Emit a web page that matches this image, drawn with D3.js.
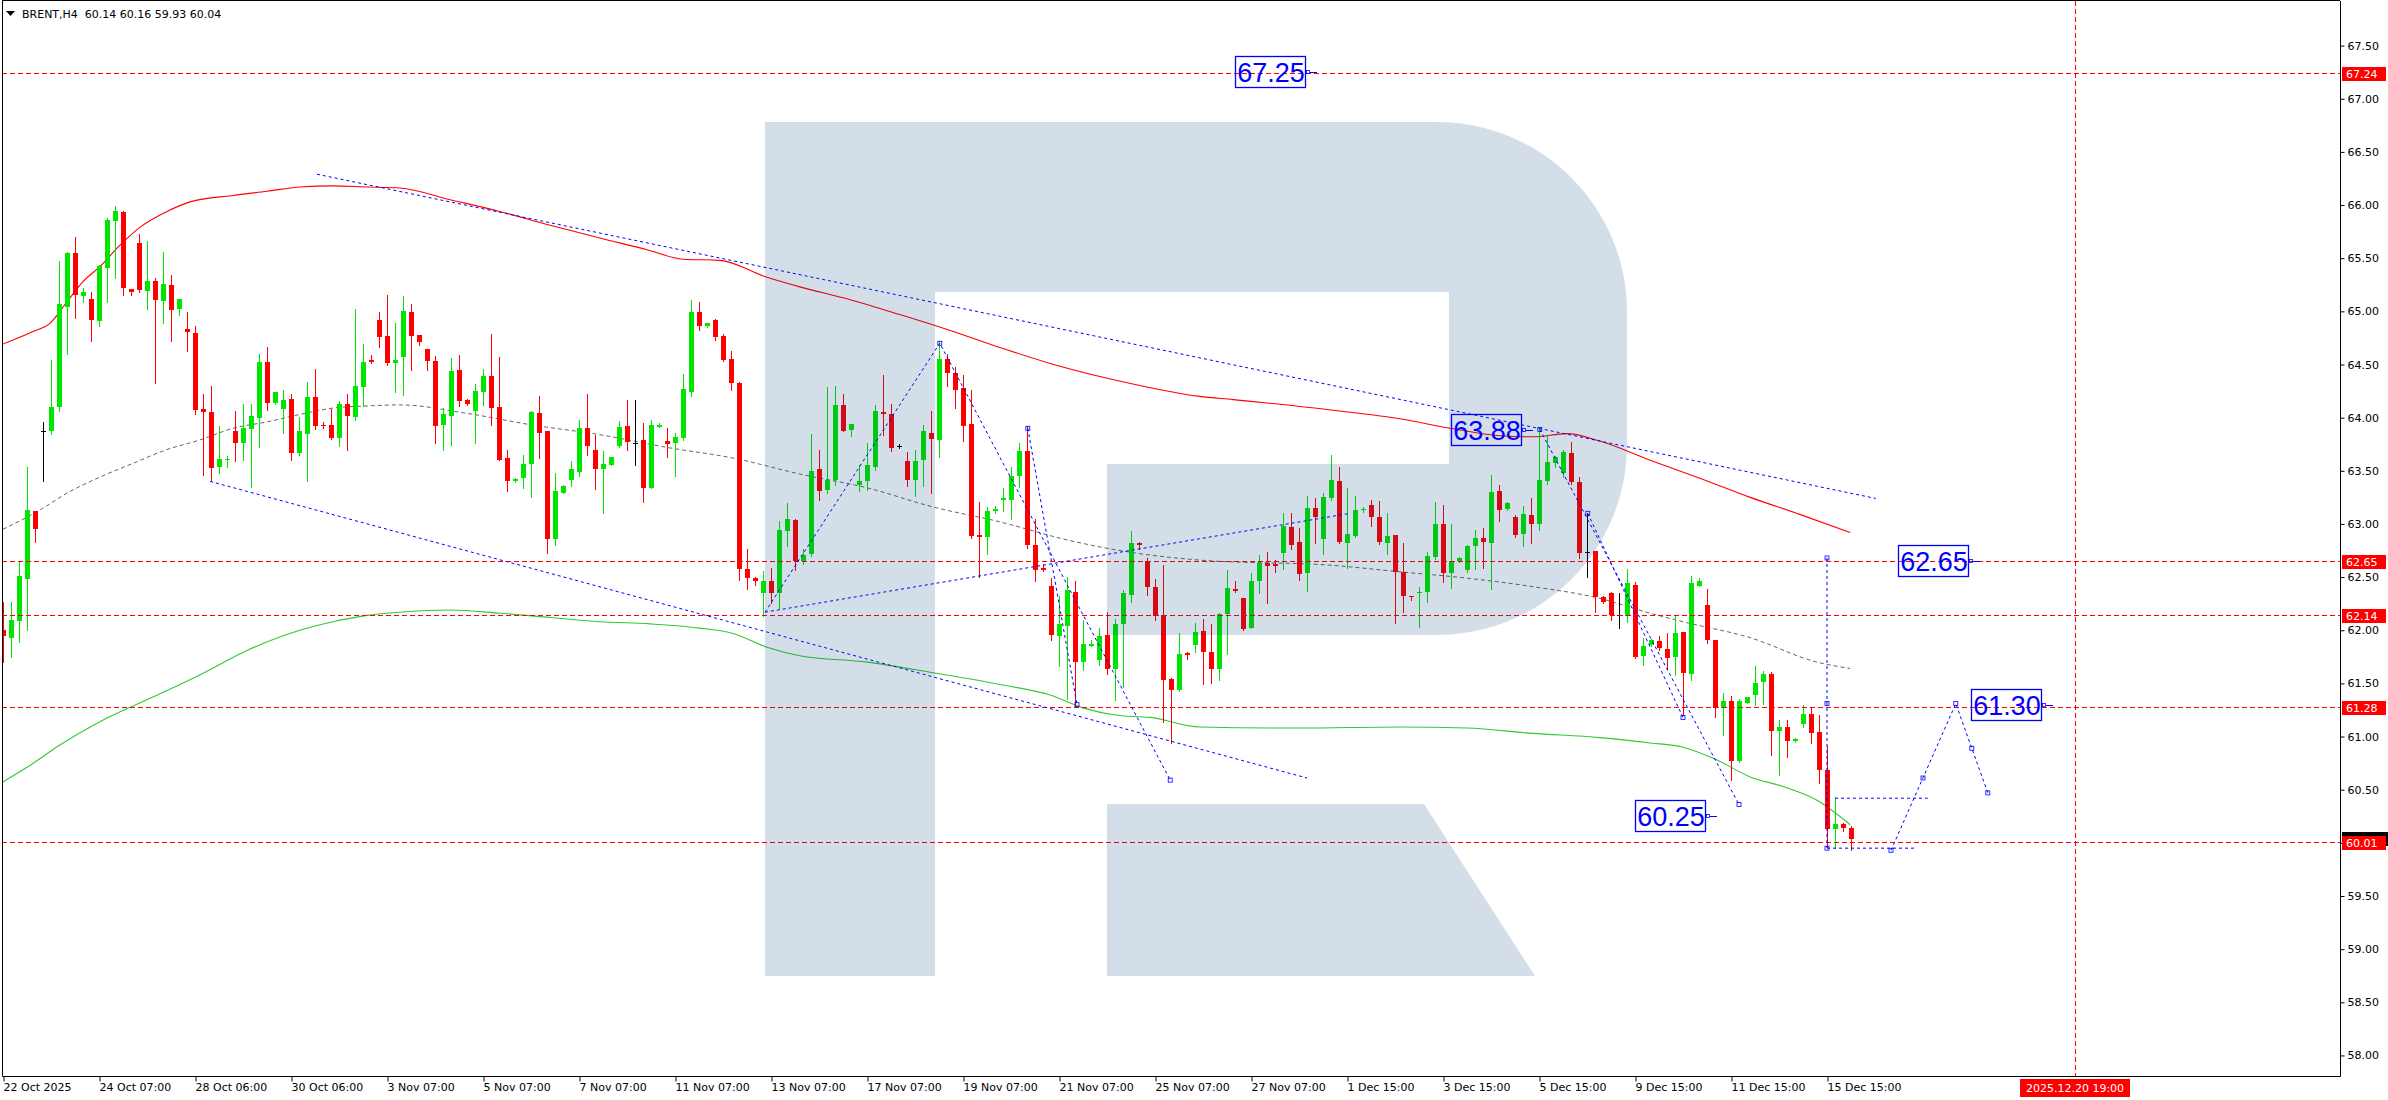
<!DOCTYPE html>
<html><head><meta charset="utf-8">
<script src="https://cdn.jsdelivr.net/npm/d3@7"></script>
<style>body{margin:0;background:#fff;}svg{display:block;}</style>
</head><body>
<svg id="c" width="2388" height="1100"></svg>
<script>
// ---------- DATA ----------
const symbolTitle = "BRENT,H4  60.14 60.16 59.93 60.04";
const opens  = [62.00,61.93,62.09,62.48,63.12,63.87,63.87,64.10,65.04,65.55,65.14,65.12,64.91,65.41,65.85,65.93,65.21,65.64,65.19,65.29,65.10,65.25,65.02,64.83,64.80,64.08,64.05,63.54,63.60,63.87,63.76,63.89,64.00,64.52,64.14,64.08,64.18,63.67,63.85,64.19,63.93,63.93,63.81,64.13,64.01,64.29,64.54,64.92,64.77,64.51,64.57,64.99,64.78,64.65,64.53,63.93,64.02,64.45,64.17,64.06,64.24,64.39,64.10,63.62,63.40,63.43,63.56,64.04,63.87,62.86,63.29,63.41,63.49,63.90,63.70,63.52,63.55,63.73,63.92,63.76,63.79,63.34,63.91,63.78,63.76,63.81,64.24,64.99,64.86,64.92,64.77,64.55,64.33,62.58,62.49,62.35,62.46,62.35,62.93,63.04,62.65,62.72,63.52,63.32,63.41,64.12,63.88,63.37,63.40,63.54,64.05,64.03,63.73,63.59,63.41,63.60,63.86,63.79,64.55,64.42,64.28,63.94,62.90,62.88,63.12,63.23,63.23,63.45,63.69,62.80,62.59,62.42,61.95,62.04,62.36,61.70,61.85,61.72,61.96,61.64,62.06,62.33,62.82,62.65,62.41,62.14,61.54,61.44,61.79,61.86,61.99,61.80,61.64,62.15,62.39,62.30,62.02,62.46,62.63,62.62,62.73,62.97,62.83,62.54,63.15,62.86,63.24,63.40,62.82,62.89,63.13,63.18,63.07,62.82,62.90,62.55,62.32,62.35,62.36,62.69,63.00,62.54,62.65,62.57,62.79,62.87,62.82,63.31,63.14,63.07,62.91,63.08,63.00,63.40,63.57,63.48,63.67,63.39,62.74,62.75,62.31,62.35,62.14,62.13,62.43,61.76,61.86,61.90,61.82,61.75,61.98,61.59,62.42,62.24,61.91,61.27,61.33,60.77,61.32,61.39,61.51,61.59,61.05,61.09,60.96,61.12,61.21,61.04,60.69,60.13,60.18,60.14];
const highs  = [62.27,62.27,62.65,63.54,63.12,63.96,64.54,65.47,65.56,65.70,65.22,65.18,65.44,65.88,65.99,65.94,65.21,65.73,65.66,65.31,65.56,65.34,65.12,64.99,64.86,64.22,64.30,63.92,63.64,64.06,64.13,64.13,64.60,64.66,64.24,64.26,64.22,64.01,64.34,64.46,63.96,64.08,64.16,64.22,65.02,64.69,64.59,64.99,65.15,64.89,65.14,65.07,64.78,64.65,64.58,64.09,64.56,64.59,64.18,64.32,64.46,64.79,64.57,63.70,63.43,63.65,64.06,64.20,63.87,63.48,63.37,63.59,63.98,64.22,63.84,63.69,63.63,63.97,64.17,64.17,63.95,63.98,63.95,63.90,63.86,64.41,65.11,65.09,64.89,64.93,64.79,64.63,64.34,62.76,62.50,62.56,62.59,63.03,63.20,63.05,62.76,63.85,63.70,64.29,64.30,64.22,63.94,63.55,63.76,64.12,64.40,64.13,63.75,63.68,63.70,63.93,64.06,64.72,64.60,64.48,64.40,64.26,63.21,63.16,63.17,63.34,63.54,63.76,63.92,63.05,62.62,62.49,62.32,62.50,62.46,62.10,61.91,62.02,62.17,62.11,62.38,62.93,62.83,62.68,62.48,62.61,61.55,61.97,61.80,62.07,62.11,62.06,62.16,62.57,62.46,62.30,62.54,62.71,62.74,62.66,63.10,63.10,62.96,63.26,63.24,63.29,63.65,63.54,63.34,63.26,63.16,63.23,63.22,63.10,62.90,62.82,62.32,62.41,62.74,63.21,63.18,63.00,62.69,62.80,62.94,62.96,63.46,63.37,63.21,63.08,63.17,63.24,63.90,63.84,63.64,63.70,63.77,63.44,63.10,62.75,62.32,62.36,62.35,62.58,62.45,61.93,61.92,61.95,61.97,62.13,61.98,62.51,62.49,62.39,61.91,61.41,61.38,61.35,61.37,61.66,61.62,61.61,61.16,61.16,60.99,61.30,61.27,61.20,60.91,60.43,60.19,60.16];
const lows   = [61.70,61.75,61.89,62.00,62.83,63.40,63.85,64.06,64.60,64.94,65.09,64.72,64.86,65.09,65.31,65.15,65.15,65.18,65.02,64.33,64.89,64.72,64.97,64.63,64.03,63.46,63.40,63.48,63.54,63.59,63.60,63.35,63.72,64.07,64.13,63.86,63.60,63.65,63.40,63.89,63.90,63.80,63.73,63.70,63.98,64.11,64.51,64.66,64.50,64.24,64.21,64.45,64.68,64.45,63.76,63.70,63.74,64.11,64.12,63.76,64.12,63.93,63.60,63.31,63.39,63.34,63.25,63.62,62.73,62.80,63.29,63.36,63.45,63.65,63.33,63.10,63.55,63.72,63.70,63.55,63.21,63.34,63.91,63.63,63.45,63.79,64.20,64.82,64.85,64.73,64.53,64.26,62.47,62.39,62.43,62.13,62.26,62.21,62.79,62.57,62.62,62.70,63.23,63.29,63.37,63.87,63.83,63.31,63.32,63.51,63.84,63.69,63.71,63.36,63.26,63.36,63.29,63.63,64.30,64.09,63.78,62.87,62.50,62.72,63.10,63.12,63.05,63.35,62.77,62.46,62.56,61.91,61.66,61.35,61.28,61.63,61.85,61.67,61.59,61.34,61.47,62.27,62.76,62.33,62.10,61.14,60.94,61.43,61.73,61.80,61.49,61.50,61.53,61.78,62.36,62.00,62.02,62.35,62.26,62.55,62.58,62.76,62.47,62.37,62.82,62.72,63.23,62.82,62.59,62.88,63.11,62.98,62.81,62.72,62.07,62.17,62.28,62.03,62.27,62.67,62.45,62.40,62.64,62.55,62.58,62.59,62.39,63.03,63.13,62.88,62.79,62.82,62.94,63.38,63.54,63.44,63.38,62.68,62.50,62.17,62.26,62.10,62.02,62.08,61.74,61.67,61.85,61.81,61.64,61.58,61.20,61.53,62.42,61.88,61.18,61.01,60.59,60.76,61.32,61.30,61.31,60.83,60.64,60.81,60.95,61.09,60.94,60.56,59.96,59.95,60.11,59.93];
const closes = [61.95,62.10,62.51,63.13,62.95,63.87,64.10,65.07,65.55,65.15,65.18,64.92,65.43,65.86,65.94,65.22,65.18,65.20,65.29,65.11,65.26,65.01,65.12,64.81,64.07,64.05,63.53,63.61,63.61,63.76,63.90,64.02,64.52,64.14,64.24,64.17,63.67,63.87,64.19,63.92,63.92,63.81,64.13,64.02,64.30,64.52,64.52,64.76,64.51,64.54,65.00,64.77,64.71,64.53,63.92,64.03,64.44,64.16,64.13,64.25,64.39,64.09,63.60,63.40,63.42,63.56,64.05,63.86,62.86,63.31,63.36,63.52,63.90,63.73,63.52,63.56,63.63,63.91,63.77,63.76,63.34,63.93,63.93,63.75,63.82,64.27,64.99,64.86,64.89,64.76,64.54,64.33,62.58,62.49,62.46,62.46,62.35,62.94,63.05,62.65,62.71,63.50,63.31,63.41,64.12,63.87,63.94,63.40,63.55,64.06,64.03,63.71,63.73,63.41,63.59,63.87,63.80,64.55,64.42,64.26,63.92,62.89,62.88,63.12,63.14,63.24,63.45,63.69,62.80,62.57,62.57,61.96,62.06,62.38,61.70,61.87,61.87,61.95,61.64,62.06,62.35,62.82,62.80,62.41,62.13,61.53,61.44,61.78,61.77,61.98,61.80,61.64,62.15,62.40,62.37,62.01,62.46,62.63,62.60,62.60,62.98,62.80,62.53,63.15,63.07,63.25,63.41,62.83,62.91,63.13,63.14,63.07,62.83,62.89,62.55,62.32,62.31,62.36,62.70,63.00,62.54,62.65,62.68,62.79,62.87,62.83,63.30,63.13,63.20,62.90,63.09,63.00,63.41,63.58,63.63,63.68,63.39,62.73,62.74,62.31,62.27,62.14,62.14,62.44,61.75,61.85,61.91,61.83,61.74,61.97,61.60,62.44,62.46,61.91,61.27,61.33,60.77,61.33,61.37,61.50,61.59,61.05,61.09,60.96,60.98,61.21,61.03,60.69,60.13,60.18,60.14,60.04];

const xTickBars   = [0,12,24,36,48,60,72,84,96,108,120,132,144,156,168,180,192,204,216,228];
const xTickLabels = ["22 Oct 2025","24 Oct 07:00","28 Oct 06:00","30 Oct 06:00","3 Nov 07:00","5 Nov 07:00","7 Nov 07:00","11 Nov 07:00","13 Nov 07:00","17 Nov 07:00","19 Nov 07:00","21 Nov 07:00","25 Nov 07:00","27 Nov 07:00","1 Dec 15:00","3 Dec 15:00","5 Dec 15:00","9 Dec 15:00","11 Dec 15:00","15 Dec 15:00"];
const yTickValues = d3.range(58, 67.51, 0.5);

// moving averages sampled as [bar, price]
const maSlow = [[-0.1,64.69],[3.75,64.81],[5.9,64.89],[8,65.09],[10,65.28],[12.1,65.42],[14.6,65.62],[17.1,65.79],[20.5,65.94],[23.4,66.03],[28.75,66.09],[33,66.13],[37.1,66.17],[41.25,66.18],[45.5,66.17],[49.6,66.16],[55.9,66.05],[62.1,65.94],[68.4,65.81],[74.6,65.69],[80.5,65.58],[85,65.49],[89.6,65.48],[95.5,65.32],[99.6,65.23],[105.9,65.11],[112.1,64.97],[118.4,64.82],[124.6,64.66],[130.9,64.51],[139.25,64.35],[149.6,64.20],[153.75,64.17],[166.25,64.07],[174.6,63.99],[180.9,63.90],[187.1,63.83],[191.25,63.82],[195.5,63.85],[199.6,63.78],[205.9,63.60],[212.1,63.43],[218.4,63.25],[224.6,63.09],[230.9,62.92]];
const maLong = [[-0.1,60.57],[3.4,60.73],[7.1,60.92],[12.1,61.14],[18.4,61.36],[24.6,61.58],[30.5,61.81],[37.1,62.00],[41.25,62.08],[45.5,62.14],[49.6,62.17],[55.9,62.19],[62.1,62.16],[68.4,62.12],[74.6,62.08],[80.9,62.06],[87.1,62.02],[91.25,61.97],[95.5,61.84],[99.6,61.76],[108,61.70],[116.25,61.60],[124.6,61.49],[130.9,61.39],[135,61.27],[139.25,61.20],[143.4,61.18],[149.6,61.09],[162.1,61.08],[174.6,61.09],[183,61.08],[191.25,61.03],[199.6,60.99],[205.9,60.94],[210,60.90],[214.25,60.78],[218.4,60.62],[222.5,60.53],[226.75,60.40],[230.9,60.17]];
const maMid = [[0,62.95],[4.6,63.13],[8,63.29],[12.1,63.44],[16.25,63.57],[20.5,63.70],[24.6,63.79],[28.75,63.90],[33,63.96],[37.1,64.03],[41.25,64.09],[45.5,64.11],[49.6,64.12],[58,64.04],[66.25,63.93],[74.6,63.84],[83,63.72],[91.25,63.62],[99.6,63.47],[108,63.34],[116.25,63.16],[124.6,63.02],[133,62.85],[141.25,62.73],[149.6,62.66],[166.25,62.61],[174.6,62.55],[183,62.49],[191.25,62.41],[199.6,62.30],[205.9,62.16],[210,62.08],[218.4,61.93],[226.75,61.70],[230.9,61.64]];

// analyst drawings (bar, price)
const trendLines = [
  [[39.25,66.29],[234.1,63.24]],
  [[25.9,63.40],[163,60.61]],
  [[95.25,62.17],[168.4,63.10]],
  [[95.25,62.17],[117.1,64.70],[145.9,60.59]],
  [[128.1,63.90],[134.25,61.30]],
  [[192.1,63.89],[217,60.36]],
  [[198.1,63.10],[210,61.18]],
  [[228,62.68],[228,59.95]],
  [[228,59.95],[239.25,59.95]],
  [[229,60.42],[240.6,60.42]],
  [[236,59.93],[244.1,61.31],[248.1,60.47]]
];
const pivotMarks = [[117.1,64.70],[128.1,63.90],[134.25,61.30],[145.9,60.59],[192.1,63.89],[198.1,63.10],[210,61.18],[217,60.36],[228,62.68],[228,61.31],[228,59.95],[236,59.93],[240,60.61],[244.1,61.31],[246.1,60.89],[248.1,60.47]];

const levels = [67.24, 62.65, 62.14, 61.28, 60.01];
const lastPrice = 60.04;
const targetTexts  = ["67.25","63.88","62.65","61.30","60.25"];
const targetPrices = [67.25, 63.88, 62.65, 61.30, 60.25];
const targetBars   = [162.9, 189.9, 245.75, 254.9, 212.9];   // right edge of the box
const futureBar = 259, futureLabel = "2025.12.20 19:00";

// ---------- CHART ----------
const svg = d3.select("#c");
const L = 2, R = 2340, T = 1, B = 1076;
const x = d3.scaleLinear().domain([0, 1]).range([3, 11]);
const y = d3.scaleLinear().domain([58, 67.5]).range([1055.45, 45.6]);
const AX = "DejaVu Sans, Verdana, sans-serif";

svg.append("defs").append("clipPath").attr("id","clip")
  .append("rect").attr("x",L+1).attr("y",T).attr("width",R-L-1).attr("height",B-T);
const g = svg.append("g").attr("clip-path","url(#clip)");

// moving averages
const ln = d3.line().x(d=>x(d[0])).y(d=>y(d[1])).curve(d3.curveMonotoneX);
g.append("path").datum(maMid).attr("d",ln).attr("fill","none").attr("stroke","#666").attr("stroke-width",1).attr("stroke-dasharray","4,3");
g.append("path").datum(maLong).attr("d",ln).attr("fill","none").attr("stroke","#32c832").attr("stroke-width",1.1);
g.append("path").datum(maSlow).attr("d",ln).attr("fill","none").attr("stroke","#ff0000").attr("stroke-width",1.1);

// candles
const idx = d3.range(opens.length);
const colr = i => closes[i] > opens[i] ? "#00e600" : (closes[i] < opens[i] ? "#ff0000" : "#000");
g.selectAll("line.wick").data(idx).join("line").attr("class","wick")
  .attr("x1",i=>Math.round(x(i))+0.5).attr("x2",i=>Math.round(x(i))+0.5)
  .attr("y1",i=>Math.round(y(highs[i]))).attr("y2",i=>Math.round(y(lows[i]))+1)
  .attr("stroke",colr).attr("stroke-width",1);
g.selectAll("rect.body").data(idx).join("rect").attr("class","body")
  .attr("x",i=>Math.round(x(i))-2).attr("width",5)
  .attr("y",i=>Math.round(y(Math.max(opens[i],closes[i]))))
  .attr("height",i=>Math.max(1, Math.round(y(Math.min(opens[i],closes[i])))-Math.round(y(Math.max(opens[i],closes[i])))))
  .attr("fill",colr);

// horizontal levels
g.selectAll("line.lvl").data(levels).join("line").attr("class","lvl")
  .attr("x1",L).attr("x2",R).attr("y1",d=>Math.round(y(d))+0.5).attr("y2",d=>Math.round(y(d))+0.5)
  .attr("stroke","#ff0000").attr("stroke-dasharray","5,3").attr("stroke-width",1);
// future vertical line
g.append("line").attr("x1",Math.round(x(futureBar))+0.5).attr("x2",Math.round(x(futureBar))+0.5)
  .attr("y1",T).attr("y2",B).attr("stroke","#ff0000").attr("stroke-dasharray","5,3");

// analyst lines
const lnS = d3.line().x(d=>x(d[0])).y(d=>y(d[1]));
g.selectAll("path.tl").data(trendLines).join("path").attr("class","tl").attr("d",lnS)
  .attr("fill","none").attr("stroke","#0000ff").attr("stroke-width",1).attr("stroke-dasharray","3,3");
g.selectAll("rect.pm").data(pivotMarks).join("rect").attr("class","pm")
  .attr("x",d=>x(d[0])-2).attr("y",d=>y(d[1])-2).attr("width",4).attr("height",4)
  .attr("fill","none").attr("stroke","#0000ff").attr("stroke-width",0.8);

// watermark logo (semi transparent overlay)
g.append("path").attr("d","M765,122 H1437 A190,190 0 0 1 1627,312 V445 A190,190 0 0 1 1437,635 H1107 V464 H1449 V292 H935 V976 H765 Z M1107,804 H1424 L1535,976 H1107 Z")
  .attr("fill","rgb(0,58,125)").attr("fill-opacity",0.17);

// target labels
targetTexts.forEach((t,i)=>{
  const xr = Math.round(x(targetBars[i])), yc = Math.round(y(targetPrices[i]));
  g.append("rect").attr("x",xr-70.5).attr("y",yc-15.5).attr("width",70).attr("height",31)
    .attr("fill","none").attr("stroke","#0000ff").attr("stroke-width",1.3);
  g.append("text").attr("x",xr-35).attr("y",yc+10).attr("text-anchor","middle")
    .attr("font-family","Liberation Sans, Arial, sans-serif").attr("font-size",27).attr("fill","#0000ff").text(t);
  g.append("rect").attr("x",xr+0.5).attr("y",yc-1.5).attr("width",3).attr("height",3).attr("fill","none").attr("stroke","#0000ff").attr("stroke-width",0.8);
  g.append("line").attr("x1",xr+4).attr("x2",xr+11).attr("y1",yc+0.5).attr("y2",yc+0.5).attr("stroke","#0000ff");
});

// frame
svg.append("path").attr("d",`M${L+0.5},${T} V${B+0.5} H${R+0.5} V${T} M${L},${T-0.5} H${R}`).attr("fill","none").attr("stroke","#000").attr("stroke-width",1);

// right axis
const ya = svg.append("g").attr("transform",`translate(${R+0.5},0)`)
  .call(d3.axisRight(y).tickValues(yTickValues).tickSize(4).tickPadding(3).tickFormat(d3.format(".2f")));
ya.select(".domain").remove();
ya.selectAll("text").attr("font-family",AX).attr("font-size",11).attr("fill","#000");

// bottom axis
const xa = svg.append("g").attr("transform",`translate(0,${B+0.5})`)
  .call(d3.axisBottom(x).tickValues(xTickBars).tickSize(5).tickFormat((d,i)=>xTickLabels[i]));
xa.select(".domain").remove();
xa.selectAll(".tick line").attr("transform","translate(0.5,0)");
xa.selectAll("text").attr("text-anchor","start").attr("x",0).attr("y",7)
  .attr("font-family",AX).attr("font-size",11).attr("fill","#000");

// axis price tags
svg.append("rect").attr("x",R+2).attr("y",Math.round(y(lastPrice))-7).attr("width",46).attr("height",14).attr("fill","#000");
levels.forEach(v=>{
  const yc = Math.round(y(v));
  svg.append("rect").attr("x",R+2).attr("y",yc-6).attr("width",44).attr("height",14).attr("fill","#ff0000");
  svg.append("text").attr("x",R+6).attr("y",yc+5).attr("font-family",AX).attr("font-size",11).attr("fill","#fff").text(d3.format(".2f")(v));
});
// future date tag
const fx = Math.round(x(futureBar));
svg.append("rect").attr("x",fx-55).attr("y",B+3).attr("width",110).attr("height",18).attr("fill","#ff0000");
svg.append("text").attr("x",fx).attr("y",B+16).attr("text-anchor","middle").attr("font-family",AX).attr("font-size",11).attr("fill","#fff").text(futureLabel);

// title
svg.append("path").attr("d","M6,11 H15 L10.5,16 Z").attr("fill","#000");
svg.append("text").attr("x",22).attr("y",18).attr("font-family",AX).attr("font-size",11).attr("fill","#000").attr("xml:space","preserve").style("white-space","pre").text(symbolTitle);
</script>
</body></html>
